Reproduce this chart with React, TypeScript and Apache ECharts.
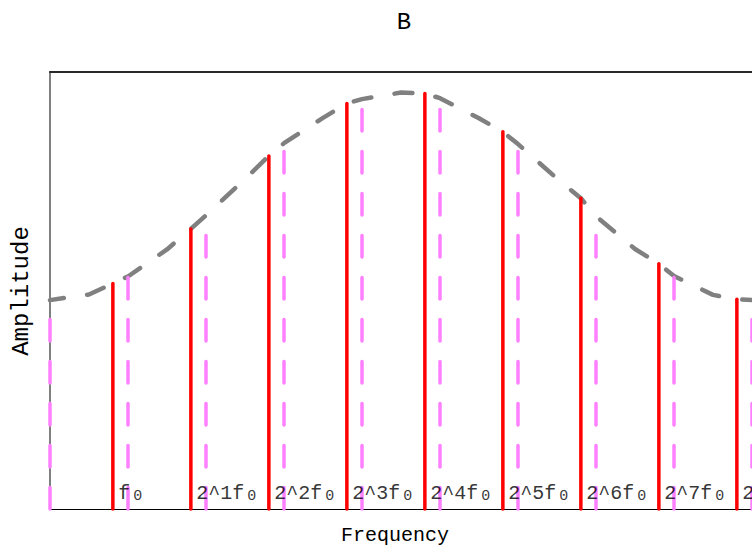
import React, { useEffect, useRef } from "react";
import * as echarts from "echarts";

// Spectral envelope, sampled every half octave (x = log2(f / f0_grid), y = amplitude)
const envelopeOctaves = [0, 0.5, 1, 1.5, 2, 2.5, 3, 3.5, 4, 4.5, 5, 5.5, 6, 6.5, 7, 7.5, 8, 8.5, 9];
const envelopeLevels = [
  0.478, 0.491, 0.532, 0.594, 0.672, 0.755, 0.837, 0.895, 0.938, 0.953,
  0.94, 0.894, 0.835, 0.756, 0.67, 0.595, 0.533, 0.49, 0.478,
];

// Partials of the tone (solid red stems) and their labels
const partialOctaves = [0.806, 1.806, 2.806, 3.806, 4.806, 5.806, 6.806, 7.806, 8.806];
const partialLevels = [0.516, 0.641, 0.808, 0.928, 0.951, 0.863, 0.711, 0.561, 0.48];
const partialLabels = ["f", "2^1f", "2^2f", "2^3f", "2^4f", "2^5f", "2^6f", "2^7f", "2^8f"];

const FONT = "'Courier New', 'Liberation Mono', monospace";

// Octave grid lines (dashed pink) sit on the whole-octave envelope samples
const gridStems = envelopeOctaves
  .map((x, i) => [x, envelopeLevels[i]])
  .filter((p) => Number.isInteger(p[0]));

// Envelope polyline passes through both the half-octave samples and the partial tops
const envelopeLine = [
  ...envelopeOctaves.map((x, i) => [x, envelopeLevels[i]]),
  ...partialOctaves.map((x, i) => [x, partialLevels[i]]),
].sort((a, b) => a[0] - b[0]);

function stem(color: string, width: number, dash: number[] | null) {
  return (_params: any, api: any) => {
    const base = api.coord([api.value(0), 0]);
    const top = api.coord([api.value(0), api.value(1)]);
    return {
      type: "line",
      shape: { x1: base[0], y1: base[1], x2: top[0], y2: top[1] },
      style: {
        stroke: color,
        lineWidth: width,
        lineDash: dash || undefined,
        lineCap: "round",
        fill: null,
      },
    };
  };
}

export default function App() {
  const ref = useRef<HTMLDivElement>(null);

  useEffect(() => {
    if (!ref.current) return;
    const chart = echarts.init(ref.current, undefined, { renderer: "svg" });
    chart.setOption({
      animation: false,
      backgroundColor: "#ffffff",
      grid: { left: 50, top: 72, width: 707, height: 437 },
      xAxis: [
        {
          type: "value",
          min: 0,
          max: 9,
          position: "bottom",
          axisLine: { show: true, lineStyle: { color: "#000000", width: 1 } },
          axisTick: { show: false },
          axisLabel: { show: false },
          splitLine: { show: false },
        },
        {
          type: "value",
          min: 0,
          max: 9,
          position: "top",
          axisLine: { show: true, onZero: false, lineStyle: { color: "#2a2a2a", width: 2 } },
          axisTick: { show: false },
          axisLabel: { show: false },
          splitLine: { show: false },
        },
      ],
      yAxis: {
        type: "value",
        min: 0,
        max: 1,
        axisLine: { show: true, onZero: false, lineStyle: { color: "#808080", width: 2 } },
        axisTick: { show: false },
        axisLabel: { show: false },
        splitLine: { show: false },
      },
      series: [
        {
          type: "line",
          data: envelopeLine,
          showSymbol: false,
          symbol: "none",
          z: 2,
          lineStyle: { color: "#808080", width: 4.5, type: [18, 23.5], cap: "round", dashOffset: 4 },
        },
        {
          type: "custom",
          data: gridStems,
          renderItem: stem("#ff80ff", 3.5, [21.5, 20.5]),
          z: 3,
        },
        {
          type: "custom",
          data: partialOctaves.map((x, i) => [x, partialLevels[i]]),
          renderItem: stem("#ff0000", 3.5, null),
          z: 4,
        },
        {
          type: "scatter",
          data: partialOctaves.map((x, i) => [x, 0, partialLabels[i]]),
          symbolSize: 1,
          itemStyle: { color: "rgba(0,0,0,0)" },
          z: 5,
          label: {
            show: true,
            position: [6, -15],
            align: "left",
            verticalAlign: "middle",
            formatter: (p: any) => `${p.data[2]}{s|0}`,
            fontFamily: FONT,
            fontSize: 20,
            lineHeight: 21,
            color: "#000000",
            rich: {
              s: {
                fontFamily: FONT,
                fontSize: 15,
                lineHeight: 19,
                verticalAlign: "bottom",
                padding: [0, 0, 0, 3],
                color: "#000000",
              },
            },
          },
        },
      ],
      graphic: [
        {
          type: "text",
          x: 404,
          y: 22,
          style: {
            text: "B",
            fontFamily: FONT,
            fontSize: 24,
            fill: "#000000",
            align: "center",
            verticalAlign: "middle",
          },
        },
        {
          type: "text",
          x: 395,
          y: 535,
          style: {
            text: "Frequency",
            fontFamily: FONT,
            fontSize: 20,
            fill: "#000000",
            align: "center",
            verticalAlign: "middle",
          },
        },
        {
          type: "text",
          x: 21,
          y: 291,
          rotation: Math.PI / 2,
          style: {
            text: "Amplitude",
            fontFamily: FONT,
            fontSize: 24,
            fill: "#000000",
            align: "center",
            verticalAlign: "middle",
          },
        },
      ],
    });
    return () => chart.dispose();
  }, []);

  return (
    <div
      ref={ref}
      style={{ position: "fixed", left: 0, top: 0, width: 752, height: 547, background: "#ffffff" }}
    />
  );
}
